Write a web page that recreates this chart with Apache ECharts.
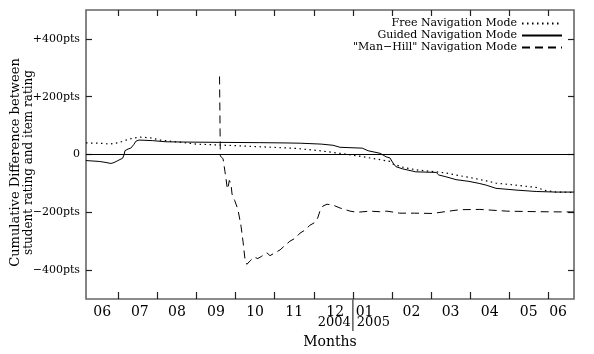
<!DOCTYPE html>
<html>
<head>
<meta charset="utf-8">
<script src="https://cdn.jsdelivr.net/npm/echarts@6/dist/echarts.min.js"></script>
<style>
  html, body { margin: 0; background: #fff; }
  #chart { width: 594px; height: 354px; }
</style>
</head>
<body>
<div id="chart"></div>
<script>
// x = months counted from 1 July 2004 (0 = start of Jul 2004, 6 = start of Jan 2005)
const xMin = -0.826;
const xMax = 11.657;

// month boundaries (ticks) and month labels
const monthBounds = [0, 1, 2, 3, 4, 5, 6, 7, 8, 9, 10, 11];
const monthLabelPos = [-0.41, 0.55, 1.5, 2.5, 3.5, 4.5, 5.55, 6.3, 7.5, 8.5, 9.5, 10.5, 11.25];
const monthLabels = ["06", "07", "08", "09", "10", "11", "12", "01", "02", "03", "04", "05", "06"];

// y ticks
const yTicks = [-400, -200, 0, 200, 400];
const yTickLabels = ["\u2212400pts", "\u2212200pts", "0", "+200pts", "+400pts"];

// Free Navigation Mode (dotted)
const freeX = [-0.826, -0.47, -0.21, 0.04, 0.2, 0.38, 0.56, 0.81, 1.07, 1.48, 1.99, 3.11, 4.55,
  5.16, 5.67, 6.08, 6.49, 6.95, 7.03, 7.28, 7.61, 8.13, 8.38, 8.64, 8.97, 9.41, 9.66, 10.17,
  10.69, 10.94, 11.2, 11.657];
const freeY = [40, 39, 36, 42, 50, 57, 60, 58, 50, 44, 36, 30, 21,
  13, 4, -4, -13, -24, -33, -44, -53, -60, -64, -71, -79, -91, -99, -106,
  -114, -125, -130, -131];

// Guided Navigation Mode (solid)
const guidedX = [-0.826, -0.49, -0.34, -0.19, -0.11, -0.01, 0.11, 0.15, 0.17, 0.25, 0.32, 0.4,
  0.45, 0.53, 0.88, 1.22, 1.73, 2.6, 3.62, 4.29, 4.67, 5.19, 5.49, 5.67, 6.24, 6.39, 6.7, 6.85,
  6.95, 7.03, 7.1, 7.28, 7.61, 8.13, 8.2, 8.38, 8.64, 8.97, 9.23, 9.41, 9.66, 10.17, 10.69,
  11.2, 11.657];
const guidedY = [-21, -24, -27, -31, -28, -21, -13, 0, 13, 19, 22, 35,
  46, 50, 48, 44, 43, 42, 41, 40, 39, 36, 32, 25, 22, 13, 4, -8,
  -12, -30, -42, -50, -60, -62, -71, -77, -87, -93, -100, -106, -117, -123, -128,
  -130, -130];

// "Man-Hill" Navigation Mode (dashed)
const manHillX = [2.59, 2.61, 2.68, 2.7, 2.73, 2.75, 2.78, 2.8, 2.84, 2.88, 2.91, 2.98,
  3.06, 3.14, 3.19, 3.24, 3.29, 3.37, 3.47, 3.57, 3.67, 3.8, 3.88, 4.01, 4.14, 4.26, 4.39,
  4.52, 4.65, 4.77, 4.9, 5.03, 5.1, 5.16, 5.24, 5.34, 5.49, 5.67, 5.93, 6.11, 6.43, 6.69,
  6.87, 7.2, 7.58, 8.04, 8.4, 8.74, 9.25, 9.94, 10.78, 11.657];
const manHillY = [270, -5, -15, -33, -60, -78, -110, -120, -90, -100, -137, -160,
  -190, -248, -300, -362, -380, -368, -355, -360, -352, -340, -350, -340, -330, -315, -300,
  -290, -272, -262, -245, -235, -220, -195, -178, -172, -175, -185, -196, -200, -196, -198,
  -196, -203, -203, -204, -197, -191, -190, -196, -198, -199];

const zip = (xs, ys) => xs.map((x, i) => [x, ys[i]]);

const FONT = "DejaVu Serif";
const FRAME = "#666";
const TICK = { color: "#222", width: 1.2 };

const chart = echarts.init(document.getElementById("chart"), null, { renderer: "canvas" });

// one legend per row so the line samples line up on the right
const legendBase = {
  orient: "vertical",
  right: 31,
  align: "right",
  itemWidth: 40,
  itemHeight: 12,
  itemGap: 0,
  padding: 0,
  selectedMode: false,
  itemStyle: { color: "transparent", borderColor: "transparent", borderWidth: 0 },
  textStyle: { fontFamily: FONT, fontSize: 11, color: "#000" },
};

chart.setOption({
  animation: false,
  grid: {
    left: 86, right: 20, top: 10, bottom: 54,
    show: true, borderColor: FRAME, borderWidth: 1.6, backgroundColor: "transparent",
  },
  legend: [
    Object.assign({}, legendBase, { top: 18, data: ["Free Navigation Mode"] }),
    Object.assign({}, legendBase, { top: 30, data: ["Guided Navigation Mode"] }),
    Object.assign({}, legendBase, { top: 42, data: ["\"Man\u2212Hill\" Navigation Mode"] }),
  ],
  xAxis: [
    {
      type: "value", min: xMin, max: xMax, position: "bottom",
      name: "Months", nameLocation: "middle", nameGap: 36,
      nameTextStyle: { fontFamily: FONT, fontSize: 14, color: "#000" },
      axisLine: { show: false, onZero: false },
      splitLine: { show: false },
      axisTick: { show: true, inside: true, length: 7, customValues: monthBounds, lineStyle: TICK },
      axisLabel: {
        customValues: monthLabelPos, margin: 6,
        fontFamily: FONT, fontSize: 14, color: "#000",
        formatter: (v) => {
          const i = monthLabelPos.findIndex((p) => Math.abs(p - v) < 1e-6);
          return i >= 0 ? monthLabels[i] : "";
        },
      },
    },
    {
      type: "value", min: xMin, max: xMax, position: "top",
      axisLine: { show: false, onZero: false }, splitLine: { show: false }, axisLabel: { show: false },
      axisTick: { show: true, inside: true, length: 6, customValues: monthBounds, lineStyle: TICK },
    },
  ],
  yAxis: [
    {
      type: "value", min: -500, max: 500, position: "left",
      axisLine: { show: false, onZero: false }, splitLine: { show: false },
      axisTick: { show: true, inside: true, length: 6, customValues: yTicks, lineStyle: TICK },
      axisLabel: {
        customValues: yTicks, margin: 6,
        fontFamily: FONT, fontSize: 11, color: "#000",
        formatter: (v) => {
          const i = yTicks.indexOf(v);
          return i >= 0 ? yTickLabels[i] : "";
        },
      },
    },
    {
      type: "value", min: -500, max: 500, position: "right",
      axisLine: { show: false, onZero: false }, splitLine: { show: false }, axisLabel: { show: false },
      axisTick: { show: true, inside: true, length: 6, customValues: yTicks, lineStyle: TICK },
    },
  ],
  series: [
    {
      name: "Free Navigation Mode", type: "line", symbol: "none",
      data: zip(freeX, freeY),
      lineStyle: { color: "#000", width: 1.2, type: [1.5, 3.5] },
      itemStyle: { color: "#000" },
      markLine: {
        silent: true, symbol: ["none", "none"], label: { show: false },
        lineStyle: { color: "#000", width: 1, type: "solid" },
        data: [{ yAxis: 0 }],
      },
    },
    {
      name: "Guided Navigation Mode", type: "line", symbol: "none",
      data: zip(guidedX, guidedY),
      lineStyle: { color: "#000", width: 1, type: "solid" },
      itemStyle: { color: "#000" },
    },
    {
      name: "\"Man\u2212Hill\" Navigation Mode", type: "line", symbol: "none",
      data: zip(manHillX, manHillY),
      lineStyle: { color: "#000", width: 1, type: [8, 5] },
      itemStyle: { color: "#000" },
    },
  ],
});

// year divider below the 12/01 boundary, plus rotated y-axis title
const divX = chart.convertToPixel({ xAxisIndex: 0 }, 6);
const bottomY = chart.convertToPixel({ yAxisIndex: 0 }, -500);
const midY = chart.convertToPixel({ yAxisIndex: 0 }, 0);

chart.setOption({
  graphic: [
    {
      type: "line", silent: true,
      shape: { x1: divX, y1: bottomY, x2: divX, y2: bottomY + 32 },
      style: { stroke: FRAME, lineWidth: 1.6 },
    },
    {
      type: "text", silent: true, x: divX - 2, y: bottomY + 24,
      style: { text: "2004", align: "right", verticalAlign: "middle",
        font: "13px '" + FONT + "'", fill: "#000" },
    },
    {
      type: "text", silent: true, x: divX + 4, y: bottomY + 24,
      style: { text: "2005", align: "left", verticalAlign: "middle",
        font: "13px '" + FONT + "'", fill: "#000" },
    },
    {
      type: "text", silent: true, x: 22, y: midY + 8, rotation: Math.PI / 2,
      style: {
        text: "{a|Cumulative Difference between}\n{b|student rating and item rating}",
        align: "center", verticalAlign: "middle",
        rich: {
          a: { fontFamily: FONT, fontSize: 13, lineHeight: 14, fill: "#000" },
          b: { fontFamily: FONT, fontSize: 12, lineHeight: 13, fill: "#000" },
        },
      },
    },
  ],
});
</script>
</body>
</html>
